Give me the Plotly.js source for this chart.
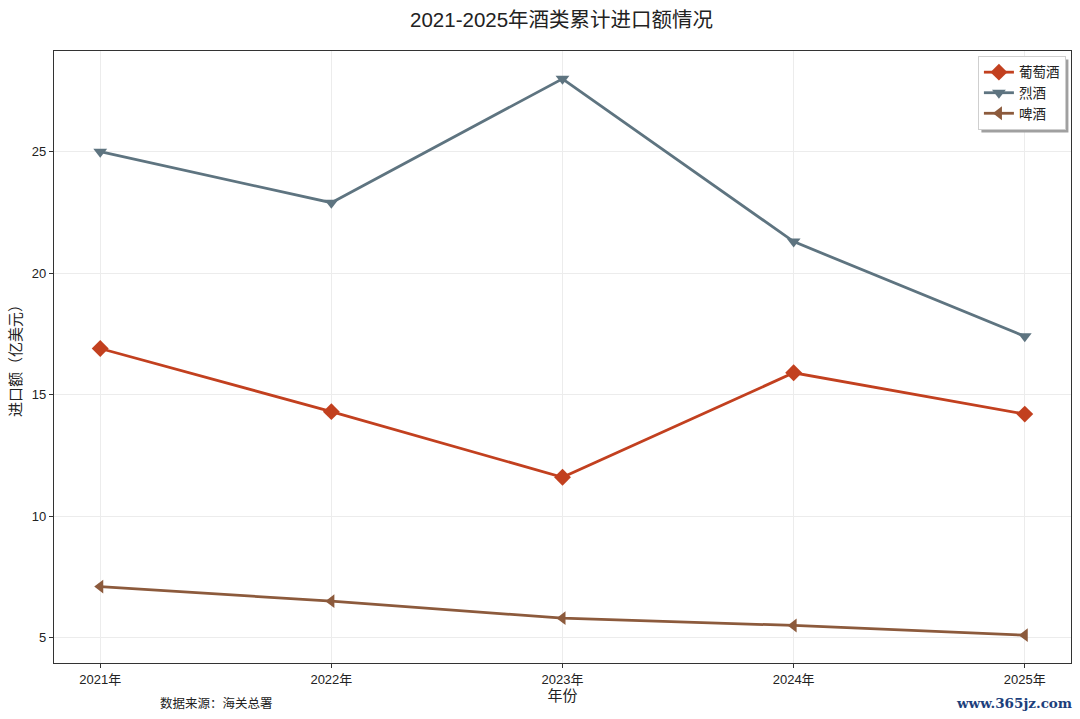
<!DOCTYPE html>
<html>
<head>
<meta charset="utf-8">
<script src="https://cdn.plot.ly/plotly-3.0.1.min.js"></script>
<style>
  html, body { margin: 0; padding: 0; background: #fff; }
  #chart { width: 1080px; height: 719px; }
</style>
</head>
<body>
<div id="chart"></div>
<script>
const years = ["2021年", "2022年", "2023年", "2024年", "2025年"];
const wine = [16.9, 14.3, 11.6, 15.9, 14.2];
const spirits = [25.0, 22.9, 28.0, 21.3, 17.4];
const beer = [7.1, 6.5, 5.8, 5.5, 5.1];

const FONT = "Liberation Sans, Noto Sans CJK SC, sans-serif";

function series(name, values, color, symbol, size) {
  return {
    x: years,
    y: values,
    type: "scatter",
    mode: "lines+markers",
    name: name,
    line: { color: color, width: 2.8 },
    marker: { symbol: symbol, size: size, color: color }
  };
}

const traces = [
  series("葡萄酒", wine, "#c2401f", "diamond", 13),
  series("烈酒", spirits, "#5e7480", "triangle-down", 12),
  series("啤酒", beer, "#8c5a3c", "triangle-left", 12)
];

const layout = {
  width: 1080,
  height: 719,
  margin: { l: 54, r: 9, t: 51, b: 56 },
  paper_bgcolor: "#fff",
  plot_bgcolor: "#fff",
  font: { family: FONT, size: 13, color: "#222" },
  title: {
    text: "2021-2025年酒类累计进口额情况",
    font: { family: FONT, size: 20.5, color: "#222" },
    x: 0.52, xanchor: "center", y: 0.972, yanchor: "middle"
  },
  xaxis: {
    type: "category",
    range: [-0.2, 4.2],
    showline: true, linecolor: "#333", linewidth: 1.2, mirror: true,
    ticks: "outside", ticklen: 4, tickcolor: "#333",
    showgrid: true, gridcolor: "#ececec", gridwidth: 1,
    zeroline: false,
    tickfont: { size: 13 },
    title: { text: "年份", font: { size: 15 }, standoff: 4 }
  },
  yaxis: {
    range: [3.955, 29.145],
    tickvals: [5, 10, 15, 20, 25],
    showline: true, linecolor: "#333", linewidth: 1.2, mirror: true,
    ticks: "outside", ticklen: 4, tickcolor: "#333",
    showgrid: true, gridcolor: "#ececec", gridwidth: 1,
    zeroline: false,
    tickfont: { size: 13 },
    title: { text: "进口额（亿美元）", font: { size: 15 }, standoff: 6 }
  },
  legend: {
    x: 0.995, xanchor: "right",
    y: 0.992, yanchor: "top",
    bgcolor: "#fff",
    bordercolor: "#cfcfcf",
    borderwidth: 1,
    font: { size: 13.5 },
    entrywidth: 90,
    entrywidthmode: "pixels",
    tracegroupgap: 0
  },
  annotations: [
    {
      text: "数据来源：海关总署",
      xref: "paper", yref: "paper", x: 0.102, y: -0.066,
      xanchor: "left", yanchor: "middle", showarrow: false,
      font: { size: 12.5, color: "#222" }
    },
    {
      text: "<b>www.365jz.com</b>",
      xref: "paper", yref: "paper", x: 1.003, y: -0.066,
      xanchor: "right", yanchor: "middle", showarrow: false,
      font: { family: "DejaVu Serif, serif", size: 13.5, color: "#1d3f7c" }
    }
  ]
};

// drop shadow behind the legend box, placed from the drawn legend size
function addLegendShadow(gd) {
  const bg = gd.querySelector(".legend .bg");
  if (!bg) return;
  const lb = bg.getBoundingClientRect();
  const fl = gd._fullLayout;
  const px = v => (v - fl._size.l) / fl._size.w;
  const py = v => (fl._size.t + fl._size.h - v) / fl._size.h;
  const off = 3;
  Plotly.relayout(gd, {
    shapes: [{
      type: "rect", xref: "paper", yref: "paper", layer: "above",
      x0: px(lb.left + off), x1: px(lb.right + off),
      y0: py(lb.bottom + off), y1: py(lb.top + off),
      fillcolor: "#a0a0a0", line: { width: 0 }
    }]
  });
}

Plotly.newPlot("chart", traces, layout, { displayModeBar: false })
  .then(addLegendShadow);
</script>
</body>
</html>
